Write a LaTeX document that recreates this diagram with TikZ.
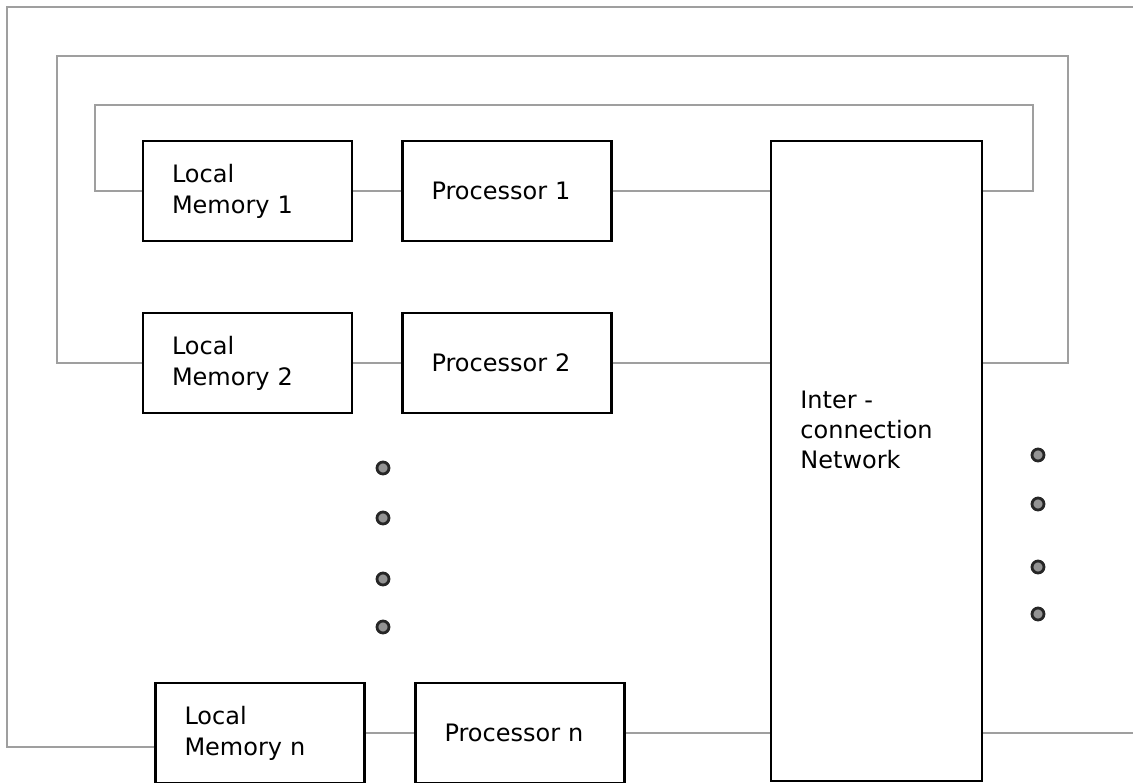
\documentclass[tikz,border=0pt]{standalone}
\usepackage{fontspec}
\setmainfont{DejaVu Sans}
\begin{document}
\begin{tikzpicture}[x=0.5pt, y=-0.5pt,
    unit/.style ={rectangle, draw, line width=1.2pt, minimum width=104.5pt, minimum height=50pt,
                  text width=75.5pt, inner xsep=14.5pt, align=left, font=\fontsize{12}{15.5}\selectfont},
    network/.style ={rectangle, draw, line width=1.2pt, minimum width=105.5pt, minimum height=320pt},
    link/.style ={draw=gray!75, line width=0.9pt},
    ellipsis/.style ={circle, draw=black!85, line width=1.4pt, fill=gray!85, minimum size=6pt, inner sep=0pt}]
   \useasboundingbox (0,0) rectangle (1133,782);

   \node[unit] (lm1) at (247.5,191) {Local\\Memory 1};
   \node[unit] (p1)  at (507,191)   {Processor 1};
   \node[unit] (lm2) at (247.5,363) {Local\\Memory 2};
   \node[unit] (p2)  at (507,363)   {Processor 2};
   \node[unit] (lmn) at (260,733)   {Local\\Memory n};
   \node[unit] (pn)  at (520,733)   {Processor n};
   \node[network] (icn) at (876.5,461) {};
   \node[anchor=north west, inner sep=0pt, align=left, font=\fontsize{12}{15}\selectfont]
      (icnlabel) at (800,391) {Inter -\\connection\\Network};

   \coordinate (outerend) at (1133,7);
   \coordinate (lastend)  at (1133,733);

   \draw[link] (lm1) to (p1);
   \draw[link] (p1) to (icn.west |- p1);
   \draw[link] (lm2) to (p2);
   \draw[link] (p2) to (icn.west |- p2);
   \draw[link] (lmn) to (pn);
   \draw[link] (pn) to (icn.west |- pn);
   \draw[link] (icn.east |- pn) to (lastend);

   \draw[link] (lm1.west) -| (95,105) -| (1033,191) -- (icn.east |- lm1);
   \draw[link] (lm2.west) -| (57,56) -| (1068,363) -- (icn.east |- lm2);
   \draw[link] ([yshift=-7pt]lmn.west) -| (7,7) -- (outerend);

   \foreach \y [count=\i] in {468,518,579,627}
      \node[ellipsis] (ldot\i) at (383,\y) {};
   \foreach \y [count=\i] in {455,504,567,614}
      \node[ellipsis] (rdot\i) at (1038,\y) {};
 \end{tikzpicture}
\end{document}
